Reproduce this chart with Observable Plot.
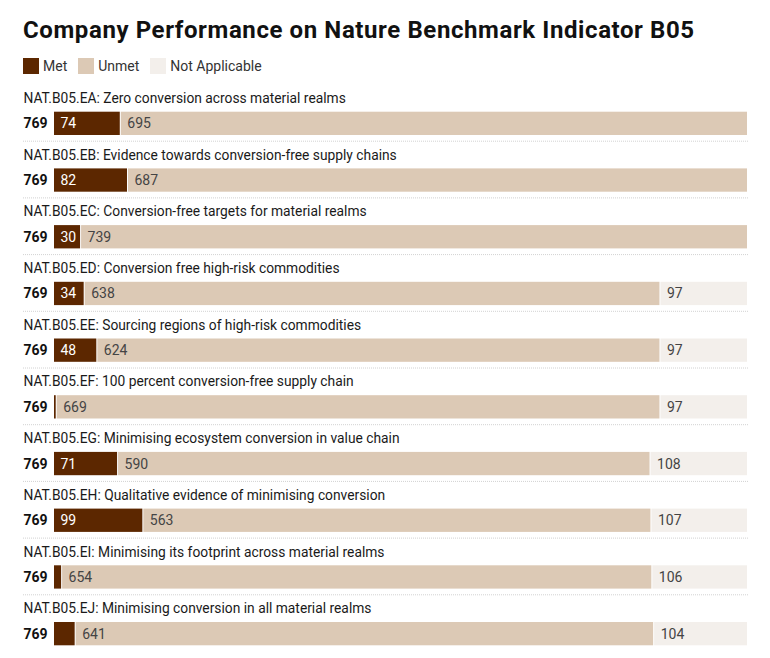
<!DOCTYPE html>
<html>
<head>
<meta charset="utf-8">
<script src="https://cdn.jsdelivr.net/npm/d3@7"></script>
<script src="https://cdn.jsdelivr.net/npm/@observablehq/plot@0.6"></script>
<style>
  html, body { margin: 0; padding: 0; background: #fff; }
  body { width: 770px; height: 658px; font-family: Roboto, "Noto Sans", sans-serif; position: relative; overflow: hidden; }
  #title { position: absolute; left: 23px; top: 16px; height: 28px; line-height: 28px; font-size: 24px; letter-spacing: 0.6px; font-weight: 700; color: #111; white-space: nowrap; }
  #legend { position: absolute; left: 23px; top: 58px; height: 16px; display: flex; align-items: center; font-size: 14px; color: #333; }
  #legend .item { display: flex; align-items: center; margin-right: 11px; }
  #legend .sw { width: 16px; height: 16px; margin-right: 4px; }
  #chart { position: absolute; left: 0; top: 84px; }
</style>
</head>
<body>
<div id="title"></div>
<div id="legend"></div>
<div id="chart"></div>
<script>
const title = "Company Performance on Nature Benchmark Indicator B05";
const statuses = ["Met", "Unmet", "Not Applicable"];
const statusColors = ["#5c2700", "#dcc9b5", "#f3efeb"];
const codes = ["EA", "EB", "EC", "ED", "EE", "EF", "EG", "EH", "EI", "EJ"];
const labels = [
  "NAT.B05.EA: Zero conversion across material realms",
  "NAT.B05.EB: Evidence towards conversion-free supply chains",
  "NAT.B05.EC: Conversion-free targets for material realms",
  "NAT.B05.ED: Conversion free high-risk commodities",
  "NAT.B05.EE: Sourcing regions of high-risk commodities",
  "NAT.B05.EF: 100 percent conversion-free supply chain",
  "NAT.B05.EG: Minimising ecosystem conversion in value chain",
  "NAT.B05.EH: Qualitative evidence of minimising conversion",
  "NAT.B05.EI: Minimising its footprint across material realms",
  "NAT.B05.EJ: Minimising conversion in all material realms"
];
const totals = [769, 769, 769, 769, 769, 769, 769, 769, 769, 769];
const met = [74, 82, 30, 34, 48, 3, 71, 99, 9, 24];
const unmet = [695, 687, 739, 638, 624, 669, 590, 563, 654, 641];
const notApplicable = [0, 0, 0, 97, 97, 97, 108, 107, 106, 104];

document.getElementById("title").textContent = title;
const legend = document.getElementById("legend");
statuses.forEach((s, i) => {
  const it = document.createElement("div");
  it.className = "item";
  const sw = document.createElement("div");
  sw.className = "sw";
  sw.style.background = statusColors[i];
  const t = document.createElement("span");
  t.textContent = s;
  it.appendChild(sw); it.appendChild(t);
  legend.appendChild(it);
});

const segments = [];
codes.forEach((c, i) => {
  const vals = [met[i], unmet[i], notApplicable[i]];
  let start = 0;
  vals.forEach((v, j) => {
    segments.push({code: c, status: statuses[j], value: v, start, end: start + v});
    start += v;
  });
});
const shown = segments.filter(d => d.value >= 28);

const chart = Plot.plot({
  width: 770,
  height: 574,
  marginLeft: 23,
  marginRight: 22,
  marginTop: 0,
  marginBottom: 7,
  style: {fontFamily: "Roboto, sans-serif", fontSize: "14px", background: "transparent"},
  x: {domain: [0, 769], range: [54, 748], axis: null},
  y: {domain: codes, padding: 0, round: false, axis: null},
  color: {domain: statuses, range: statusColors},
  marks: [
    Plot.ruleY(codes.slice(0, -1), {y: d => d, dy: 28.35, stroke: "#d2d2d2", strokeDasharray: "1,1", strokeWidth: 1}),
    Plot.barX(segments.filter(d => d.value > 0), {x1: "start", x2: "end", y: "code", fill: "status", insetTop: 27.7, insetBottom: 5.7, insetRight: 1}),
    Plot.text(codes, {y: d => d, text: (d, i) => labels[i], frameAnchor: "left", textAnchor: "start", dy: -14.3, fill: "#1a1a1a", fontSize: 13.8}),
    Plot.text(codes, {y: d => d, text: (d, i) => String(totals[i]), frameAnchor: "left", textAnchor: "start", dy: 11, fill: "#111", fontWeight: "bold", fontSize: 14}),
    Plot.text(shown.filter(d => d.status === "Met"), {x: "start", y: "code", text: d => String(d.value), textAnchor: "start", dx: 6, dy: 11, fill: "#fff", fontSize: 14}),
    Plot.text(shown.filter(d => d.status !== "Met"), {x: "start", y: "code", text: d => String(d.value), textAnchor: "start", dx: 6, dy: 11, fill: "#444", fontSize: 14})
  ]
});
document.getElementById("chart").appendChild(chart);
</script>
</body>
</html>
